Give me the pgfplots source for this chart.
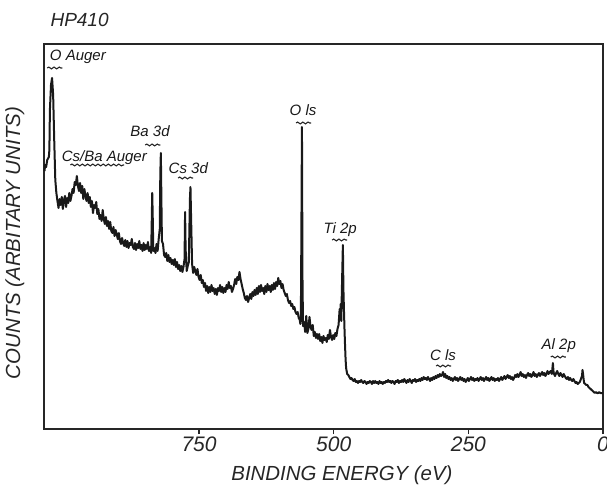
\documentclass[border=0pt]{standalone}
\usepackage{fontspec}
\setmainfont{Liberation Sans}
\usepackage{pgfplots}
\pgfplotsset{compat=1.18}
\usetikzlibrary{decorations.pathmorphing}

\pgfplotstableread{
E C
1037 258
1036 264
1034 262
1032 269
1029 272
1028 279
1027 319
1025 344
1023 351
1021 334
1019 289
1017 249
1015 236
1013 228
1011 221
1009 230
1007 224
1005 232
1003 220
1001 229
999 233
997 222
995 231
993 226
991 236
989 228
987 233
985 240
983 236
981 247
979 244
977 253
975 243
973 238
971 246
969 236
967 243
965 230
963 240
961 233
959 228
957 236
955 226
953 232
951 222
949 228
947 216
945 224
943 221
941 227
939 215
937 220
935 210
933 214
931 208
929 219
927 210
925 205
923 212
921 203
919 208
917 200
915 207
913 198
911 196
909 202
907 193
905 199
903 195
901 190
899 196
897 188
895 185
893 191
891 186
889 183
887 189
885 182
883 188
881 181
879 186
877 184
875 190
873 182
871 180
869 186
867 179
865 185
863 181
861 188
859 180
857 184
855 178
853 186
851 179
849 184
847 180
845 187
843 178
841 182
839 176
838 205
837 236
836 210
835 178
833 181
831 176
829 185
827 178
825 190
823 200
822 255
821 276
820 230
819 188
817 185
815 174
813 172
811 176
809 168
807 174
805 167
803 171
801 165
799 169
797 164
795 170
793 162
791 167
789 160
787 164
785 158
783 163
781 157
779 162
777 170
776 217
775 180
773 158
771 163
769 167
768 200
767 230
766 242
765 215
764 190
763 165
761 156
759 162
757 158
755 154
753 160
751 152
749 149
747 154
745 146
743 149
741 142
739 146
737 138
735 143
733 136
731 142
729 137
727 144
725 138
723 141
721 135
719 140
717 134
715 141
713 138
711 144
709 137
707 142
705 136
703 141
701 137
699 144
697 140
695 147
693 141
691 143
689 137
687 140
685 144
683 150
681 145
679 152
677 149
675 157
673 150
671 145
669 140
667 136
665 131
663 129
661 133
659 127
657 131
655 135
653 130
651 137
649 133
647 139
645 134
643 141
641 135
639 143
637 137
635 144
633 138
631 141
629 135
627 143
625 137
623 145
621 139
619 143
617 137
615 144
613 139
611 146
609 140
607 147
605 143
603 151
601 145
599 148
597 141
595 145
593 139
591 136
589 133
587 135
585 129
583 126
581 128
579 123
577 125
575 120
573 122
571 117
569 115
567 117
565 111
563 109
562 105
561 112
560 200
559 302
558 150
557 103
555 107
553 97
551 113
549 96
547 100
545 112
543 102
541 99
539 104
537 93
535 97
533 91
531 95
529 90
527 95
525 88
523 92
521 86
519 93
517 89
515 91
513 87
511 94
509 90
507 99
505 92
503 89
501 94
499 90
497 96
495 93
493 100
491 104
489 120
488 112
487 125
486 108
485 135
484 160
483 184
482 140
481 119
480 100
479 84
478 70
477 61
475 55
473 54
471 52
469 50
467 51
465 49
463 48
461 50
459 47
457 48
455 46
453 48
451 47
449 49
447 47
445 46
443 48
441 47
439 45
437 47
435 46
433 48
431 47
429 45
427 48
425 46
423 48
421 46
419 47
417 45
415 48
413 46
411 47
409 45
407 47
405 46
403 48
401 47
399 49
397 47
395 48
393 46
391 48
389 47
387 45
385 48
383 47
381 49
379 46
377 48
375 47
373 49
371 47
369 50
367 48
365 46
363 49
361 47
359 50
357 48
355 46
353 49
351 48
349 50
347 47
345 49
343 48
341 50
339 48
337 51
335 49
333 52
331 50
329 51
327 49
325 52
323 50
321 48
319 51
317 49
315 52
313 50
311 53
309 51
307 54
305 52
303 55
301 53
299 54
297 57
295 52
293 55
291 51
289 53
287 50
285 52
283 49
281 51
279 48
277 50
275 52
273 49
271 51
269 48
267 50
265 52
263 49
261 51
259 48
257 50
255 47
253 49
251 51
249 48
247 50
245 52
243 49
241 51
239 48
237 50
235 49
233 51
231 48
229 50
227 52
225 49
223 51
221 48
219 50
217 52
215 49
213 51
211 48
209 50
207 52
205 49
203 51
201 48
199 50
197 49
195 51
193 48
191 50
189 52
187 49
185 51
183 53
181 50
179 52
177 54
175 51
173 53
171 50
169 52
167 49
165 51
163 54
161 52
159 55
157 52
155 54
153 57
151 53
149 55
147 52
145 54
143 51
141 54
139 56
137 53
135 55
133 52
131 54
129 57
127 53
125 55
123 52
121 54
119 56
117 53
115 55
113 57
111 54
109 56
107 53
105 55
103 58
101 55
99 57
97 58
95 55
94 60
93 66
92 58
91 55
89 53
87 56
85 58
83 55
81 53
79 56
77 54
75 52
73 55
71 53
69 51
67 50
65 52
63 49
61 51
59 49
57 48
55 50
53 48
51 46
49 47
47 45
45 46
43 47
41 50
39 53
38 59
37 55
36 50
35 46
33 45
31 44
29 44
27 42
25 41
23 40
21 39
19 38
17 37
15 36
13 37
11 36
9 36
7 37
5 36
3 36
1 36
0 36
}\spectrum

\begin{document}
\begin{tikzpicture}
\useasboundingbox (-22pt,-30pt) rectangle (281.5pt,214.5pt);
\begin{axis}[
    at={(0,0)}, anchor=south west,
    width=279.5pt, height=192.5pt, scale only axis,
    x dir=reverse, xmin=0, xmax=1038, ymin=0, ymax=385,
    xtick={0,250,500,750}, ytick=\empty,
    xtick pos=bottom, tick align=outside, major tick length=2.5pt,
    axis line style={line width=0.7pt, black!85},
    tick style={line width=0.6pt, black!85},
    /pgf/number format/assume math mode=true,
    xticklabel style={font=\itshape\fontsize{10.5}{12}\selectfont, text=black!85, inner sep=1pt},
    xlabel={BINDING ENERGY (eV)},
    ylabel={COUNTS (ARBITARY UNITS)},
    label style={font=\itshape\fontsize{10.2}{12}\selectfont, text=black!85},
    xlabel style={at={(axis description cs:0.533,-0.12)}, anchor=center},
    ylabel style={at={(axis description cs:-0.052,0.483)}, anchor=center},
    clip=false,
]
\addplot[line width=1pt, black!90, line join=round] table[x=E, y=C] {\spectrum};

\tikzset{lab/.style={font=\itshape\fontsize{7.5}{9}\selectfont, text=black!90, inner sep=0pt},
         wav/.style={decorate, decoration={snake, amplitude=0.45pt, segment length=2.6pt}, line width=0.55pt, black!85}}
\node[lab] at (axis cs:975,372) {O Auger};
\draw[wav] (axis cs:1032,361) -- (axis cs:1004,361);
\node[lab] at (axis cs:926,271) {Cs/Ba Auger};
\draw[wav] (axis cs:989,264) -- (axis cs:889,264);
\node[lab] at (axis cs:841,298) {Ba 3d};
\draw[wav] (axis cs:850,284) -- (axis cs:822,284);
\node[lab] at (axis cs:770,261) {Cs 3d};
\draw[wav] (axis cs:789,251) -- (axis cs:761,251);
\node[lab] at (axis cs:557,319) {O ls};
\draw[wav] (axis cs:570,306) -- (axis cs:542,306);
\node[lab] at (axis cs:488,199) {Ti 2p};
\draw[wav] (axis cs:503,189) -- (axis cs:475,189);
\node[lab] at (axis cs:297,74) {C ls};
\draw[wav] (axis cs:310,63) -- (axis cs:282,63);
\node[lab] at (axis cs:82,83) {Al 2p};
\draw[wav] (axis cs:97,72) -- (axis cs:69,72);

\node[anchor=west, font=\itshape\fontsize{9.5}{11}\selectfont, text=black!85, inner sep=0pt]
    at (axis description cs:0.011,1.062) {HP410};
\end{axis}
\end{tikzpicture}
\end{document}
